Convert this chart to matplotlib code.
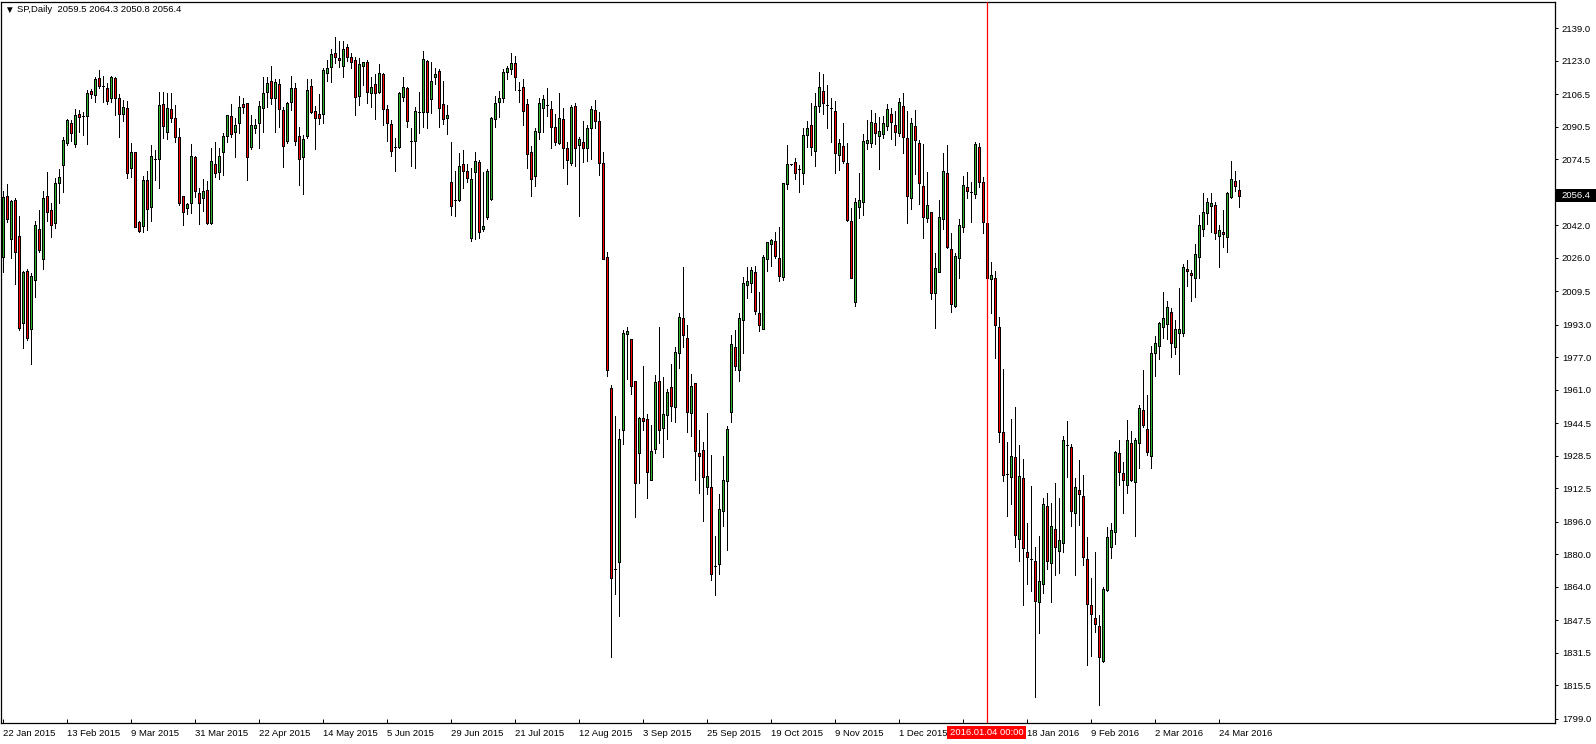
import matplotlib
matplotlib.use("Agg")  # no window, file output only
import matplotlib.pyplot as plt
from matplotlib.patches import Rectangle
import numpy as np

# daily OHLC, oldest first (22 Jan 2015 ... 31 Mar 2016)
opens = [
    2026.5, 2056.5, 2035.0, 2054.4, 2036.5, 1993.7, 2019.4, 1990.7, 2014.8, 2039.9,
    2025.1, 2056.2, 2049.4, 2043.2, 2062.9, 2071.7, 2082.6, 2092.2, 2082.1, 2096.7,
    2095.7, 2095.9, 2108.0, 2106.2, 2114.6, 2110.3, 2109.5, 2104.4, 2114.4, 2104.6,
    2096.5, 2099.6, 2069.9, 2077.9, 2043.7, 2041.7, 2064.0, 2051.1, 2074.7, 2074.4,
    2101.4, 2088.0, 2099.0, 2094.5, 2085.2, 2056.3, 2050.3, 2052.7, 2075.5, 2057.6,
    2055.5, 2059.1, 2042.9, 2071.9, 2068.3, 2077.8, 2086.0, 2095.7, 2087.6, 2092.1,
    2101.4, 2101.9, 2080.6, 2090.0, 2092.4, 2099.5, 2107.3, 2113.1, 2104.4, 2111.3,
    2098.5, 2083.4, 2102.4, 2109.3, 2086.0, 2075.3, 2085.7, 2110.3, 2098.0, 2096.5,
    2096.5, 2116.7, 2120.0, 2126.7, 2124.2, 2120.5, 2129.6, 2124.7, 2123.3, 2105.7,
    2120.5, 2122.1, 2106.9, 2111.3, 2107.3, 2116.4, 2099.0, 2091.6, 2080.6, 2080.6,
    2105.2, 2109.3, 2083.4, 2083.5, 2097.8, 2097.5, 2122.8, 2103.9, 2114.7, 2117.8,
    2101.6, 2094.9, 2063.0, 2054.4, 2054.4, 2071.9, 2068.5, 2035.8, 2068.3, 2072.9,
    2040.1, 2046.1, 2054.7, 2094.0, 2102.5, 2104.4, 2117.2, 2118.9, 2121.8, 2108.3,
    2109.8, 2101.5, 2078.0, 2066.4, 2087.6, 2099.6, 2101.2, 2099.2, 2090.1, 2082.4,
    2094.0, 2079.9, 2072.8, 2100.6, 2081.3, 2082.8, 2079.9, 2089.9, 2098.6, 2093.0,
    2072.8, 2026.1, 1961.8, 1872.9, 1876.3, 1941.0, 1988.2, 1985.9, 1965.1, 1929.8,
    1947.2, 1946.4, 1916.5, 1931.9, 1965.4, 1942.3, 1948.7, 1962.1, 1952.3, 1978.9,
    1996.5, 1986.4, 1949.3, 1964.1, 1929.8, 1931.4, 1912.9, 1913.0, 1874.4, 1875.3,
    1901.1, 1915.9, 1949.8, 1982.2, 1970.5, 1995.2, 2012.5, 2013.3, 2018.9, 1998.7,
    1991.1, 2025.1, 2032.5, 2034.0, 2025.6, 2016.7, 2062.0, 2071.9, 2072.9, 2069.6,
    2067.6, 2086.4, 2091.1, 2078.6, 2100.8, 2108.0, 2101.1, 2099.8, 2098.2, 2076.5,
    2080.9, 2072.4, 2044.0, 2004.3, 2051.1, 2053.2, 2082.6, 2082.3, 2092.1, 2086.0,
    2086.7, 2090.9, 2096.7, 2091.3, 2087.2, 2100.6, 2085.0, 2055.2, 2090.8, 2082.3,
    2061.3, 2045.3, 2048.3, 2008.4, 2019.1, 2044.8, 2067.8, 2030.2, 2002.2, 2025.7,
    2041.2, 2060.9, 2058.1, 2057.2, 2080.4, 2063.1, 2042.9, 2015.4, 2015.9, 1991.7,
    1940.2, 1919.3, 1917.8, 1927.7, 1887.6, 1917.5, 1881.3, 1877.7, 1876.7, 1856.3,
    1865.6, 1903.7, 1875.9, 1892.4, 1881.7, 1885.8, 1933.9, 1933.0, 1900.5, 1911.6,
    1908.9, 1877.6, 1854.8, 1848.6, 1844.6, 1827.6, 1862.5, 1883.5, 1891.0, 1930.0,
    1920.2, 1914.1, 1934.6, 1915.4, 1934.6, 1951.0, 1941.5, 1928.5, 1978.9, 1982.7,
    1992.0, 1993.2, 1999.4, 1982.2, 1989.1, 1988.8, 2020.4, 2018.3, 2015.8, 2026.1,
    2040.1, 2047.8, 2051.6, 2051.9, 2036.8, 2038.6, 2036.0, 2056.0, 2063.7, 2059.5,
]
highs = [
    2058.8, 2062.1, 2054.4, 2055.2, 2046.5, 2019.4, 2020.4, 2018.3, 2044.0, 2049.4,
    2058.8, 2068.1, 2052.7, 2065.0, 2069.4, 2085.5, 2094.1, 2093.7, 2099.1, 2098.6,
    2097.8, 2108.5, 2108.8, 2115.0, 2118.3, 2115.2, 2111.8, 2115.4, 2114.7, 2106.4,
    2103.6, 2103.1, 2082.2, 2078.2, 2044.0, 2066.2, 2068.6, 2081.4, 2079.0, 2107.3,
    2107.3, 2107.2, 2106.9, 2101.1, 2089.6, 2056.5, 2053.0, 2081.8, 2076.0, 2060.1,
    2064.7, 2063.7, 2080.1, 2082.7, 2079.8, 2087.5, 2096.2, 2101.6, 2094.5, 2105.5,
    2104.4, 2102.3, 2096.2, 2094.0, 2103.2, 2114.7, 2114.7, 2120.3, 2113.7, 2113.7,
    2100.3, 2102.7, 2115.4, 2112.1, 2090.4, 2086.4, 2113.7, 2113.7, 2100.6, 2106.5,
    2119.2, 2123.3, 2128.5, 2134.7, 2132.8, 2132.6, 2131.0, 2126.9, 2124.6, 2124.1,
    2122.4, 2123.3, 2115.1, 2116.4, 2121.3, 2117.0, 2101.1, 2093.7, 2084.7, 2107.7,
    2115.1, 2109.8, 2089.9, 2100.0, 2107.7, 2127.7, 2123.3, 2122.1, 2119.2, 2118.8,
    2112.9, 2101.0, 2082.7, 2068.6, 2077.3, 2079.0, 2071.9, 2069.9, 2077.8, 2074.0,
    2068.3, 2069.4, 2095.4, 2105.4, 2107.9, 2118.9, 2120.5, 2126.6, 2125.3, 2112.3,
    2114.1, 2104.0, 2080.9, 2089.6, 2104.6, 2106.0, 2109.4, 2103.1, 2096.7, 2106.9,
    2099.6, 2082.8, 2101.2, 2102.1, 2085.3, 2093.4, 2091.1, 2100.8, 2103.7, 2097.9,
    2078.0, 2028.8, 1963.2, 1948.1, 1941.9, 1990.2, 1992.1, 1985.9, 1965.5, 1947.7,
    1972.8, 1949.1, 1943.5, 1968.3, 1991.8, 1967.1, 1961.2, 1973.7, 1982.2, 1998.7,
    2021.4, 1992.8, 1968.6, 1964.1, 1941.1, 1935.2, 1949.5, 1928.8, 1889.0, 1909.7,
    1928.5, 1943.1, 1987.8, 1990.3, 1998.7, 2016.3, 2021.2, 2021.4, 2022.0, 2009.1,
    2027.1, 2033.8, 2035.1, 2038.8, 2041.0, 2062.5, 2081.3, 2072.3, 2075.1, 2071.6,
    2089.7, 2093.1, 2102.0, 2106.9, 2117.2, 2116.2, 2111.0, 2104.4, 2103.1, 2084.4,
    2092.4, 2082.3, 2050.3, 2055.5, 2067.8, 2086.8, 2093.7, 2098.7, 2097.3, 2095.4,
    2095.9, 2101.4, 2099.5, 2098.2, 2104.4, 2106.9, 2098.3, 2094.6, 2098.7, 2083.9,
    2081.8, 2068.3, 2048.6, 2028.1, 2054.4, 2077.7, 2081.4, 2038.0, 2028.1, 2045.0,
    2066.2, 2068.0, 2063.4, 2083.1, 2082.6, 2065.5, 2043.1, 2023.6, 2019.5, 1996.7,
    1971.2, 1935.4, 1946.5, 1952.4, 1933.6, 1926.8, 1895.6, 1913.5, 1883.8, 1888.8,
    1907.6, 1910.3, 1905.3, 1915.1, 1907.6, 1938.1, 1945.6, 1934.5, 1917.5, 1926.4,
    1918.9, 1888.5, 1868.3, 1881.1, 1850.0, 1863.8, 1893.3, 1895.5, 1930.9, 1936.3,
    1925.6, 1946.1, 1940.7, 1937.1, 1953.5, 1970.7, 1958.4, 1982.5, 1987.4, 1994.2,
    2008.9, 2004.8, 2001.0, 1995.3, 2010.9, 2022.7, 2024.8, 2019.9, 2032.7, 2047.0,
    2057.6, 2055.5, 2058.0, 2053.5, 2042.1, 2049.4, 2058.5, 2073.5, 2068.6, 2064.3,
]
lows = [
    2019.1, 2043.7, 2025.6, 2012.8, 1990.5, 1981.7, 1985.5, 1973.5, 2006.8, 2029.0,
    2020.4, 2044.0, 2036.3, 2040.4, 2053.0, 2058.4, 2081.4, 2083.4, 2080.4, 2088.0,
    2086.3, 2081.9, 2104.4, 2102.7, 2109.3, 2102.7, 2101.6, 2102.7, 2096.2, 2085.5,
    2093.2, 2065.3, 2065.8, 2040.9, 2038.4, 2038.4, 2039.6, 2044.2, 2064.2, 2060.4,
    2085.0, 2084.2, 2092.9, 2083.1, 2051.9, 2042.0, 2047.3, 2047.8, 2056.0, 2042.5,
    2049.1, 2042.5, 2042.5, 2065.8, 2064.5, 2066.6, 2083.1, 2085.5, 2075.7, 2087.5,
    2097.0, 2064.2, 2079.3, 2087.5, 2080.1, 2087.7, 2100.3, 2101.6, 2088.0, 2090.4,
    2070.4, 2082.2, 2098.6, 2081.4, 2061.6, 2057.1, 2084.7, 2097.3, 2079.3, 2091.6,
    2092.1, 2113.1, 2112.6, 2121.6, 2119.6, 2115.0, 2122.9, 2119.1, 2096.2, 2101.1,
    2111.0, 2102.3, 2100.3, 2094.2, 2106.9, 2091.3, 2083.4, 2076.0, 2068.6, 2080.1,
    2103.1, 2090.4, 2071.1, 2070.3, 2087.5, 2090.4, 2089.9, 2097.3, 2111.4, 2090.1,
    2091.8, 2086.8, 2047.0, 2046.6, 2053.9, 2060.4, 2063.4, 2034.2, 2035.0, 2035.5,
    2039.3, 2045.0, 2054.4, 2090.5, 2095.4, 2102.7, 2113.7, 2116.6, 2108.3, 2102.5,
    2091.5, 2069.9, 2056.4, 2061.2, 2084.2, 2088.0, 2095.8, 2079.9, 2081.3, 2081.9,
    2069.9, 2062.0, 2071.8, 2070.9, 2046.7, 2073.2, 2073.6, 2074.5, 2089.9, 2066.8,
    2025.3, 1967.6, 1829.4, 1860.3, 1849.7, 1934.2, 1966.4, 1958.7, 1898.5, 1915.3,
    1941.4, 1907.6, 1916.5, 1929.7, 1934.9, 1927.7, 1936.6, 1945.8, 1945.0, 1971.8,
    1982.2, 1940.3, 1938.1, 1916.7, 1910.0, 1896.6, 1909.5, 1867.5, 1860.1, 1870.1,
    1894.1, 1882.3, 1945.3, 1970.5, 1965.4, 1978.9, 2006.3, 2009.1, 1998.2, 1989.8,
    1991.1, 2019.5, 2021.7, 2025.9, 2014.5, 2015.0, 2060.0, 2071.5, 2064.5, 2058.2,
    2062.4, 2080.2, 2076.6, 2071.3, 2097.5, 2096.5, 2090.0, 2083.1, 2067.5, 2069.1,
    2072.7, 2044.0, 2015.8, 2002.4, 2045.7, 2047.0, 2079.5, 2080.6, 2081.9, 2069.6,
    2085.0, 2088.8, 2084.4, 2081.4, 2086.0, 2077.3, 2042.9, 2049.9, 2067.0, 2052.2,
    2035.8, 2043.7, 2005.5, 1991.5, 2018.7, 2039.9, 2030.9, 1999.4, 2001.9, 2015.8,
    2038.8, 2055.2, 2043.4, 2055.2, 2060.9, 2038.0, 2015.9, 1998.9, 1976.5, 1935.4,
    1916.2, 1899.0, 1904.9, 1883.8, 1876.8, 1854.8, 1865.6, 1862.0, 1809.6, 1841.4,
    1861.1, 1872.7, 1856.6, 1870.0, 1870.9, 1881.1, 1917.8, 1893.8, 1870.0, 1894.2,
    1874.9, 1825.7, 1829.8, 1842.0, 1806.0, 1827.1, 1862.0, 1878.1, 1885.3, 1913.9,
    1900.5, 1910.4, 1916.3, 1889.2, 1922.3, 1942.8, 1928.9, 1922.6, 1967.9, 1976.1,
    1986.3, 1986.0, 1976.9, 1978.6, 1968.6, 1987.6, 2012.2, 2004.8, 2006.8, 2015.8,
    2036.6, 2042.5, 2038.8, 2035.0, 2021.6, 2031.4, 2028.6, 2055.5, 2059.0, 2050.8,
]
closes = [
    2056.0, 2045.0, 2053.9, 2028.6, 1991.2, 2018.8, 1986.3, 2017.0, 2041.9, 2029.7,
    2055.2, 2048.6, 2042.2, 2062.6, 2065.5, 2083.7, 2093.6, 2087.2, 2096.2, 2095.4,
    2095.7, 2106.8, 2106.7, 2113.9, 2110.3, 2110.3, 2103.2, 2114.9, 2104.7, 2096.5,
    2100.1, 2067.5, 2077.8, 2041.2, 2039.1, 2064.0, 2049.8, 2076.2, 2074.7, 2101.1,
    2090.8, 2099.5, 2094.9, 2085.2, 2053.0, 2048.6, 2052.4, 2076.0, 2059.0, 2053.0,
    2059.0, 2042.9, 2073.5, 2067.8, 2075.8, 2085.7, 2096.0, 2086.7, 2091.1, 2099.9,
    2100.3, 2075.7, 2091.1, 2091.1, 2100.4, 2106.8, 2111.8, 2104.4, 2112.3, 2099.0,
    2081.1, 2102.1, 2109.3, 2083.5, 2074.4, 2084.2, 2108.3, 2097.8, 2094.9, 2094.9,
    2118.3, 2119.2, 2126.0, 2124.9, 2123.1, 2128.7, 2124.9, 2122.4, 2105.2, 2121.3,
    2122.1, 2107.7, 2109.8, 2106.9, 2116.7, 2099.3, 2092.4, 2078.6, 2080.6, 2106.8,
    2109.8, 2093.4, 2083.4, 2098.2, 2097.8, 2123.7, 2097.8, 2112.9, 2116.4, 2099.5,
    2094.0, 2096.2, 2051.2, 2054.4, 2071.1, 2068.8, 2065.3, 2064.7, 2073.4, 2038.8,
    2041.6, 2068.6, 2094.9, 2102.1, 2104.4, 2117.2, 2119.5, 2122.0, 2114.7, 2108.3,
    2098.3, 2077.0, 2064.5, 2088.2, 2102.1, 2104.0, 2101.2, 2090.5, 2082.8, 2094.8,
    2079.9, 2073.8, 2100.2, 2079.9, 2084.2, 2079.9, 2089.6, 2099.2, 2093.4, 2072.6,
    2025.3, 1970.5, 1868.2, 1872.9, 1936.5, 1988.8, 1989.8, 1962.8, 1914.9, 1947.2,
    1945.4, 1920.7, 1930.9, 1964.6, 1941.4, 1949.0, 1959.9, 1953.2, 1979.4, 1997.0,
    1988.1, 1949.8, 1962.6, 1931.0, 1928.2, 1918.1, 1918.4, 1870.1, 1874.4, 1902.1,
    1916.4, 1941.9, 1983.4, 1972.5, 1996.2, 2013.3, 2014.5, 2019.7, 1999.9, 1992.7,
    2026.2, 2033.5, 2034.6, 2026.7, 2017.2, 2062.5, 2071.9, 2071.9, 2067.4, 2069.6,
    2086.4, 2089.7, 2080.5, 2100.6, 2109.8, 2102.3, 2101.1, 2099.8, 2077.3, 2082.3,
    2073.7, 2044.5, 2016.1, 2053.2, 2054.4, 2083.4, 2083.9, 2092.6, 2087.2, 2088.3,
    2092.1, 2099.1, 2092.9, 2088.0, 2102.4, 2085.5, 2056.3, 2092.1, 2083.9, 2062.6,
    2046.2, 2051.9, 2008.8, 2020.7, 2045.8, 2068.6, 2031.4, 2003.0, 2026.8, 2042.1,
    2061.7, 2058.8, 2058.1, 2081.9, 2063.4, 2043.7, 2016.2, 2017.3, 1992.6, 1940.2,
    1918.9, 1919.3, 1928.6, 1889.4, 1918.4, 1883.1, 1878.5, 1877.7, 1857.2, 1866.8,
    1904.9, 1876.8, 1893.7, 1883.5, 1887.0, 1936.3, 1933.9, 1901.4, 1913.0, 1909.8,
    1878.5, 1855.7, 1850.4, 1845.9, 1829.4, 1862.9, 1888.5, 1891.9, 1930.4, 1920.5,
    1916.6, 1936.3, 1916.6, 1936.3, 1951.9, 1943.6, 1930.2, 1978.9, 1983.8, 1993.7,
    1996.1, 2001.5, 1983.8, 1990.7, 1990.7, 2021.2, 2019.3, 2017.3, 2027.6, 2041.9,
    2048.6, 2053.2, 2053.1, 2038.0, 2039.4, 2037.5, 2058.0, 2064.5, 2061.2, 2056.4,
]

# time scale: one label every 16 bars (the 23 Dec label is hidden by the cursor box)
date_labels = [
    "22 Jan 2015", "13 Feb 2015", "9 Mar 2015", "31 Mar 2015", "22 Apr 2015",
    "14 May 2015", "5 Jun 2015", "29 Jun 2015", "21 Jul 2015", "12 Aug 2015",
    "3 Sep 2015", "25 Sep 2015", "19 Oct 2015", "9 Nov 2015", "1 Dec 2015",
    "23 Dec 2015", "18 Jan 2016", "9 Feb 2016", "2 Mar 2016", "24 Mar 2016",
]
label_step = 16

price_ticks = [2139.0, 2123.0, 2106.5, 2090.5, 2074.5, 2058.0, 2042.0, 2026.0,
               2009.5, 1993.0, 1977.0, 1961.0, 1944.5, 1928.5, 1912.5, 1896.0,
               1880.0, 1864.0, 1847.5, 1831.5, 1815.5, 1799.0]

symbol = "SP,Daily"
cursor_bar = 246
cursor_text = "2016.01.04 00:00"

BULL = "#2db42d"
BEAR = "#ff0000"
W, H = 1596, 744

plt.rcParams["font.family"] = ["Liberation Sans", "DejaVu Sans"]
plt.rcParams["font.size"] = 6.8

fig = plt.figure(figsize=(W / 100, H / 100), dpi=100)
fig.patch.set_facecolor("white")
# chart frame in pixels: x 1..1555, y 2..723
ax = fig.add_axes([1 / W, 21 / H, 1554 / W, 721 / H])

o = np.array(opens)
h = np.array(highs)
l = np.array(lows)
c = np.array(closes)
idx = np.arange(len(o))

# wicks, then bodies
ax.vlines(idx, l, h, color="black", lw=0.72, antialiased=False, zorder=2)
colors = np.where(c > o, BULL, np.where(c < o, BEAR, "black"))
ax.bar(idx, c - o, bottom=o, width=0.5, color=colors, edgecolor="black",
       linewidth=0.72, antialiased=False, zorder=3)

# vertical cursor line
ax.axvline(cursor_bar, color="red", lw=0.9, zorder=4)

ax.set_xlim(-0.5, 388.0)
ax.set_ylim(1796.97, 2151.8)

for s in ax.spines.values():
    s.set_color("black")
    s.set_linewidth(0.9)

ax.yaxis.tick_right()
ax.set_yticks(price_ticks)
ax.set_yticklabels([f"{p:.1f}" for p in price_ticks])
ax.tick_params(axis="y", direction="out", length=2.5, width=0.72, pad=2.5)

# the label whose text sits under the cursor box is not shown (as on the terminal)
xt = np.arange(len(date_labels)) * label_step
shown = ["" if 0 < cursor_bar - t < label_step else lab
         for t, lab in zip(xt, date_labels)]
ax.set_xticks(xt)
ax.set_xticklabels(shown, ha="left")
ax.tick_params(axis="x", direction="in", length=3, width=0.72, pad=4)

# header
fig.text(4 / W, 1 - 10 / H, "\u25bc", fontsize=7, va="center", ha="left")
fig.text(17 / W, 1 - 10 / H, f"{symbol}  {opens[-1]:.1f} {highs[-1]:.1f} "
         f"{lows[-1]:.1f} {closes[-1]:.1f}", va="center", ha="left")

# last price box on the price scale
y_last = ax.transData.transform((0, closes[-1]))[1]
fig.patches.append(Rectangle((1556 / W, (y_last - 6.5) / H), 40 / W, 13 / H,
                             transform=fig.transFigure, facecolor="black",
                             edgecolor="none", zorder=5))
fig.text(1561 / W, y_last / H, f"{closes[-1]:.1f}", color="white",
         va="center", ha="left", zorder=6)

# cursor time label on the time scale
x_cur = ax.transData.transform((cursor_bar, 0))[0]
fig.patches.append(Rectangle(((x_cur - 40) / W, (H - 739) / H), 79 / W, 13 / H,
                             transform=fig.transFigure, facecolor="red",
                             edgecolor="none", zorder=5))
fig.text(x_cur / W, (H - 732.5) / H, cursor_text, color="white",
         va="center", ha="center", zorder=6)

fig.savefig("out.png", dpi=100)
plt.close(fig)
